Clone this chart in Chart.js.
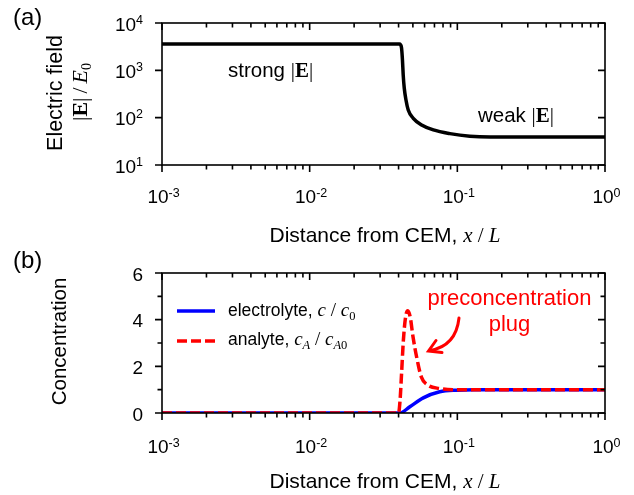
<!DOCTYPE html>
<html>
<head>
<meta charset="utf-8">
<script src="https://cdn.jsdelivr.net/npm/chart.js@4.4.1/dist/chart.umd.min.js"></script>
<style>
    html, body { margin: 0; padding: 0; background: #fff; }
    #wrap { position: relative; width: 634px; height: 495px; }
    canvas { position: absolute; left: 0; }
</style>
</head>
<body>
<div id="wrap">
    <canvas id="fieldChart" width="634" height="250" style="top:0"></canvas>
    <canvas id="concChart" width="634" height="245" style="top:250px"></canvas>
</div>
<script>
// Panel (a): electric field along the channel
const xField = [0.001, 0.0405, 0.0412, 0.0419, 0.0425, 0.0430, 0.0437, 0.0449, 0.0465, 0.0503, 0.0573, 0.0688, 0.0891, 0.1216, 0.167, 1];
const eField = [3600, 3600, 3500, 2960, 1650, 796, 423, 236, 145, 97, 70, 55, 46, 40.5, 39, 39];

// Panel (b): concentrations
const xElectrolyte = [0.001, 0.0408, 0.0477, 0.0588, 0.076, 0.1, 0.13, 1];
const cElectrolyte = [0, 0, 0.27, 0.65, 0.91, 0.98, 1.0, 1.0];
const xAnalyte = [0.001, 0.0400, 0.0410, 0.0420, 0.0431, 0.0446, 0.0462, 0.0480, 0.0500, 0.0530, 0.0570, 0.0630, 0.0760, 0.1, 1];
const cAnalyte = [0, 0, 0.6, 1.8, 3.1, 4.1, 4.38, 4.1, 3.3, 2.4, 1.55, 1.2, 1.05, 1.0, 1.0];

// Ticks
const xMajor = [0.001, 0.01, 0.1, 1];
const xMajorExp = ['-3', '-2', '-1', '0'];
const xMinorMult = [2, 3, 4, 5, 6, 7, 8, 9];
const eMajor = [10, 100, 1000, 10000];
const eMajorExp = ['1', '2', '3', '4'];
const cMajor = [0, 2, 4, 6];
const cMinor = [1, 3, 5];

const RED = '#ff0000';
const BLUE = '#0000ff';

const sans = s => `${s}px "Liberation Sans", Arial, sans-serif`;
const serif = (s, st = '') => `${st} ${s}px "Liberation Serif", "Times New Roman", serif`;

const pairs = (xs, ys) => xs.map((x, i) => ({ x, y: ys[i] }));

const xMinor = [];
xMajor.slice(0, -1).forEach(d => xMinorMult.forEach(m => xMinor.push(d * m)));

// draw mixed-font text on one baseline
function drawRich(ctx, parts, x, y, align) {
    let w = 0;
    parts.forEach(p => {
        ctx.font = p.font;
        p.w = ctx.measureText(p.t).width;
        w += p.w + (p.gap || 0);
    });
    let cx = align === 'center' ? x - w / 2 : align === 'right' ? x - w : x;
    ctx.textAlign = 'left';
    ctx.textBaseline = 'alphabetic';
    parts.forEach(p => {
        ctx.font = p.font;
        ctx.fillText(p.t, cx, y + (p.dy || 0));
        cx += p.w + (p.gap || 0);
    });
}

function drawRotated(ctx, parts, x, y) {
    ctx.save();
    ctx.translate(x, y);
    ctx.rotate(-Math.PI / 2);
    drawRich(ctx, parts, 0, 0, 'center');
    ctx.restore();
}

const absE = s => [
    { t: '|', font: serif(s) },
    { t: 'E', font: serif(s, 'bold') },
    { t: '|', font: serif(s) }
];

const xTitle = [
    { t: 'Distance from CEM, ', font: sans(21) },
    { t: 'x', font: serif(21, 'italic') },
    { t: ' / ', font: serif(21) },
    { t: 'L', font: serif(21, 'italic') }
];

// frame, ticks, tick labels and text
function axesPlugin(cfg) {
    return {
        id: 'axesFrame',
        afterDraw(chart) {
            const { ctx, chartArea: a, scales: { x, y } } = chart;
            ctx.save();
            ctx.strokeStyle = '#000';
            ctx.fillStyle = '#000';
            ctx.lineWidth = 1.6;
            ctx.strokeRect(a.left, a.top, a.right - a.left, a.bottom - a.top);

            ctx.beginPath();
            const seg = (x1, y1, x2, y2) => { ctx.moveTo(x1, y1); ctx.lineTo(x2, y2); };
            xMajor.forEach(v => {
                const p = x.getPixelForValue(v);
                seg(p, a.bottom, p, a.bottom + 7);
                seg(p, a.top, p, a.top + 7);
            });
            xMinor.forEach(v => {
                const p = x.getPixelForValue(v);
                seg(p, a.bottom, p, a.bottom + 4.5);
                seg(p, a.top, p, a.top + 4.5);
            });
            cfg.yMajor.forEach(v => {
                const p = y.getPixelForValue(v);
                seg(a.left - 7, p, a.left, p);
                seg(a.right - 7, p, a.right, p);
            });
            (cfg.yMinor || []).forEach(v => {
                const p = y.getPixelForValue(v);
                seg(a.left - 4.5, p, a.left, p);
                seg(a.right - 4.5, p, a.right, p);
            });
            ctx.stroke();

            // x tick labels
            xMajor.forEach((v, i) => {
                const p = x.getPixelForValue(v);
                drawRich(ctx, [
                    { t: '10', font: sans(19) },
                    { t: xMajorExp[i], font: sans(12.5), dy: -6 }
                ], p + 1.5, cfg.xLabelBase, 'center');
            });
            // y tick labels
            cfg.yMajor.forEach((v, i) => {
                const p = y.getPixelForValue(v);
                drawRich(ctx, cfg.yLabel(i), 143, p + 7.5, 'right');
            });

            drawRich(ctx, xTitle, 385, cfg.xTitleBase, 'center');
            cfg.extra(ctx, chart);
            ctx.restore();
        }
    };
}

const baseOptions = (padding, yScale) => ({
    responsive: false,
    animation: false,
    layout: { padding },
    plugins: { legend: { display: false }, tooltip: { enabled: false } },
    elements: { point: { radius: 0 } },
    scales: {
        x: { type: 'logarithmic', min: 0.001, max: 1, display: false },
        y: yScale
    }
});

// (a) electric field
new Chart(document.getElementById('fieldChart'), {
    type: 'line',
    data: {
        datasets: [{
            data: pairs(xField, eField),
            borderColor: '#000',
            borderWidth: 3.5,
            cubicInterpolationMode: 'monotone',
            fill: false
        }]
    },
    options: baseOptions(
        { left: 162, right: 29, top: 23, bottom: 85 },
        { type: 'logarithmic', min: 10, max: 10000, display: false }
    ),
    plugins: [axesPlugin({
        yMajor: eMajor,
        yLabel: i => [
            { t: '10', font: sans(19) },
            { t: eMajorExp[i], font: sans(12.5), dy: -7 }
        ],
        xLabelBase: 203,
        xTitleBase: 242,
        extra(ctx) {
            drawRich(ctx, [{ t: '(a)', font: sans(24) }], 13, 24.5, 'left');
            drawRotated(ctx, [{ t: 'Electric field', font: sans(21.5) }], 62, 93);
            drawRotated(ctx, [
                ...absE(22),
                { t: '/', font: serif(22), gap: 0 },
                { t: 'E', font: serif(22, 'italic') },
                { t: '0', font: serif(14), dy: 4 }
            ].map((p, i) => (i === 2 || i === 3) ? { ...p, gap: 4 } : p), 86.5, 92);
            drawRich(ctx, [{ t: 'strong ', font: sans(20.5) }, ...absE(21)], 228, 76.5, 'left');
            drawRich(ctx, [{ t: 'weak ', font: sans(20.5) }, ...absE(21)], 478, 121.5, 'left');
        }
    })]
});

// (b) concentration
new Chart(document.getElementById('concChart'), {
    type: 'line',
    data: {
        datasets: [{
            label: 'analyte',
            data: pairs(xAnalyte, cAnalyte),
            borderColor: RED,
            borderWidth: 3.5,
            borderDash: [10, 4],
            cubicInterpolationMode: 'monotone',
            fill: false,
            order: 0
        }, {
            label: 'electrolyte',
            data: pairs(xElectrolyte, cElectrolyte),
            borderColor: BLUE,
            borderWidth: 3.5,
            cubicInterpolationMode: 'monotone',
            fill: false,
            order: 1
        }]
    },
    options: baseOptions(
        { left: 162, right: 29, top: 23, bottom: 82 },
        { type: 'linear', min: 0, max: 6, display: false }
    ),
    plugins: [axesPlugin({
        yMajor: cMajor,
        yMinor: cMinor,
        yLabel: i => [{ t: String(cMajor[i]), font: sans(19) }],
        xLabelBase: 203,
        xTitleBase: 238,
        extra(ctx) {
            drawRich(ctx, [{ t: '(b)', font: sans(24) }], 13, 18, 'left');
            drawRotated(ctx, [{ t: 'Concentration', font: sans(20.5) }], 66, 91.5);

            // legend
            ctx.lineWidth = 3.5;
            ctx.strokeStyle = BLUE;
            ctx.beginPath(); ctx.moveTo(177, 61); ctx.lineTo(215, 61); ctx.stroke();
            ctx.strokeStyle = RED;
            ctx.setLineDash([10, 4]);
            ctx.beginPath(); ctx.moveTo(177, 91); ctx.lineTo(215, 91); ctx.stroke();
            ctx.setLineDash([]);
            ctx.fillStyle = '#000';
            drawRich(ctx, [
                { t: 'electrolyte, ', font: sans(17.5) },
                { t: 'c', font: serif(19, 'italic') },
                { t: ' / ', font: serif(19) },
                { t: 'c', font: serif(19, 'italic') },
                { t: '0', font: serif(12.5), dy: 4 }
            ], 228, 66, 'left');
            drawRich(ctx, [
                { t: 'analyte, ', font: sans(17.5) },
                { t: 'c', font: serif(19, 'italic') },
                { t: 'A', font: serif(12.5, 'italic'), dy: 4 },
                { t: ' / ', font: serif(19) },
                { t: 'c', font: serif(19, 'italic') },
                { t: 'A', font: serif(12.5, 'italic'), dy: 4 },
                { t: '0', font: serif(12.5), dy: 4 }
            ], 228, 95, 'left');

            // annotation
            ctx.fillStyle = RED;
            drawRich(ctx, [{ t: 'preconcentration', font: sans(22) }], 509.5, 55, 'center');
            drawRich(ctx, [{ t: 'plug', font: sans(22) }], 509.5, 81, 'center');
            ctx.strokeStyle = RED;
            ctx.lineWidth = 3;
            ctx.lineCap = 'round';
            ctx.beginPath();
            ctx.moveTo(459, 68);
            ctx.quadraticCurveTo(456, 96, 430, 100.5);
            ctx.stroke();
            ctx.beginPath();
            ctx.moveTo(436, 90.5);
            ctx.lineTo(428.5, 101);
            ctx.lineTo(442, 102.5);
            ctx.stroke();
        }
    })]
});
</script>
</body>
</html>
